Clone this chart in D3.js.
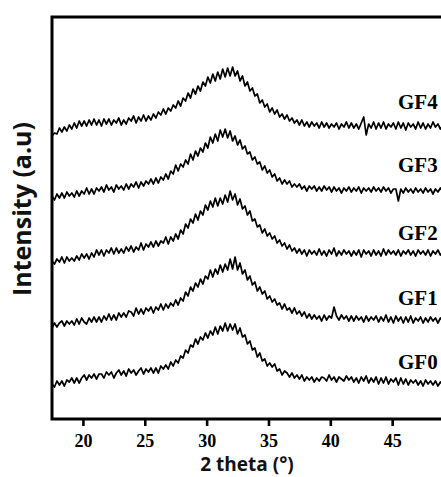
<!DOCTYPE html>
<html>
<head>
<meta charset="utf-8">
<script src="https://cdn.jsdelivr.net/npm/d3@7"></script>
<style>
  body { margin: 0; background: #fff; }
  svg { display: block; }
</style>
</head>
<body>
<svg id="chart"></svg>
<script>
// XRD patterns GF0..GF4 (scan 17.5° .. 49.1°, step 0.2°)
const thetaStart = 17.5, thetaStep = 0.2;

const names = ["GF0", "GF1", "GF2", "GF3", "GF4"];
const offsets = [30, 90, 155, 220, 283];   // vertical stacking of the patterns
const xTicks = [20, 25, 30, 35, 40, 45];

const gf0 = [4,1,7,3,7,2,8,6,10,5, 10,5,10,13,8,13,10,14,9,14, 14,10,16,13,16,10,15,18,13,17,
  12,19,15,18,13,17,20,14,19,16, 20,15,20,15,22,19,23,19,26,22, 28,25,32,30,38,35,43,41,49,44,
  51,48,55,50,57,53,61,54,62,57, 65,57,64,58,64,54,60,51,53,44, 47,38,40,31,35,27,29,22,25,21,
  24,17,19,13,17,15,11,15,10,13, 9,13,7,11,8,11,6,10,7,11, 10,7,13,8,11,6,11,9,7,12,
  8,11,6,10,5,11,7,12,5,10, 6,11,4,10,5,11,4,9,6,10, 3,10,4,9,3,8,5,8,3,7, 2,8,4,7,3,7,2,6,3];

const gf1 = [0,5,1,5,7,2,7,4,7,3, 9,4,10,6,4,10,6,11,6,11, 6,12,8,14,8,13,8,15,11,15,
  11,17,16,12,20,14,19,14,20,17, 21,15,21,18,24,18,24,20,25,22, 28,23,30,27,36,32,41,37,45,41,
  49,44,52,49,58,51,59,54,63,56, 64,58,69,59,71,58,65,54,58,48, 52,43,46,37,41,34,37,29,32,26,
  29,23,25,19,24,18,20,15,20,14, 17,12,16,10,14,9,13,9,12,7, 13,8,12,10,21,12,8,13,9,12,
  7,12,7,12,8,11,6,12,7,11, 8,12,6,11,7,13,6,11,5,12, 7,11,5,11,6,12,5,10,7,11, 5,10,6,11,7,10,5,10,7];

const gf2 = [2,-1,4,1,6,0,6,2,5,2, 7,3,9,5,9,4,10,6,13,8, 13,7,13,10,15,9,15,10,14,10,
  16,12,17,11,16,13,20,13,19,16, 21,16,22,17,22,20,26,19,26,22, 29,24,33,29,39,35,44,40,49,43,
  52,48,58,53,62,56,65,57,65,59, 68,61,72,63,69,58,64,54,57,48, 52,42,44,36,38,30,34,27,30,24,
  27,20,23,17,20,14,18,12,15,10, 14,9,13,7,13,9,12,8,14,8, 12,7,13,9,15,7,12,8,13,9,
  12,7,12,8,13,6,13,9,12,7, 13,8,12,7,14,8,13,9,12,8, 13,7,12,9,13,8,12,7,13,9, 12,8,13,7,12,9,13,8,11];

const gf3 = [2,-2,4,0,5,0,6,2,5,1, 7,2,7,4,10,4,9,4,10,7, 11,6,13,8,11,6,13,9,12,8,
  14,9,14,11,16,10,16,12,17,14, 19,14,20,15,21,18,24,19,27,24, 33,27,34,31,38,34,44,38,47,42,
  50,46,55,50,61,55,64,57,68,61, 69,60,67,57,62,53,58,49,52,44, 46,38,41,34,36,28,32,25,28,21,
  24,17,20,14,18,14,17,11,14,11, 14,9,12,7,12,9,12,7,11,7, 12,8,11,6,11,7,10,5,10,7,
  11,6,10,7,11,5,10,7,10,6, 11,7,10,6,11,7,10,5,9,9, -3,9,5,10,6,9,5,10,6,9, 5,10,6,9,4,9,6,10,6];

const gf4 = [-1,2,1,7,3,8,4,10,6,12, 7,14,9,14,9,15,10,16,10,15, 9,16,11,16,10,15,12,17,10,15,
  11,17,14,19,12,18,14,20,14,19, 15,21,17,23,20,26,21,27,24,30, 27,34,29,37,34,42,37,46,41,49,
  44,53,49,58,52,61,54,63,56,66, 58,67,59,68,59,64,54,59,49,53, 44,47,39,41,32,35,28,31,23,27,
  21,25,18,21,16,20,14,17,12,15, 10,15,9,13,8,13,9,12,7,13, 8,12,7,11,8,12,6,11,8,13,
  7,12,7,11,6,12,18,0,11,7, 13,6,12,7,13,6,11,8,12,6, 13,7,12,5,12,8,11,6,13,7, 12,6,11,7,13,8,11,6,10];

const seriesValues = [gf0, gf1, gf2, gf3, gf4];

// Layout
const width = 441, height = 477;
const plot = { left: 52, top: 17, bottom: 419 };
const labelLift = [19, 23, 23, 26, 26];

const svg = d3.select("#chart")
  .attr("width", width)
  .attr("height", height);

const x = d3.scaleLinear()
  .domain([17.5, 50])
  .range([plot.left, plot.left + 32.5 * 12.37]);

const y = d3.scaleLinear()
  .domain([-1, 401])
  .range([plot.bottom, plot.top]);

const line = d3.line()
  .x(d => x(d.t))
  .y(d => y(d.v));

// Kurven
seriesValues.forEach((vals, k) => {
  const pts = vals.map((v, i) => ({ t: thetaStart + i * thetaStep, v: v + offsets[k] }));
  svg.append("path")
    .datum(pts)
    .attr("fill", "none")
    .attr("stroke", "#000")
    .attr("stroke-width", 1.7)
    .attr("stroke-linejoin", "round")
    .attr("d", line);
});

// Rahmen
svg.append("rect")
  .attr("x", plot.left)
  .attr("y", plot.top)
  .attr("width", x(50) - plot.left)
  .attr("height", plot.bottom - plot.top)
  .attr("fill", "none")
  .attr("stroke", "#000")
  .attr("stroke-width", 3);

// x-Achse
const xAxis = svg.append("g")
  .attr("transform", `translate(0,${plot.bottom})`)
  .call(d3.axisBottom(x).tickValues(xTicks).tickSize(7).tickPadding(8));
xAxis.select(".domain").remove();
xAxis.selectAll(".tick line")
  .attr("stroke", "#000")
  .attr("stroke-width", 2.6);
xAxis.selectAll(".tick text")
  .attr("fill", "#000")
  .attr("font-family", "'Liberation Serif', 'Times New Roman', serif")
  .attr("font-weight", "bold")
  .attr("font-size", "18px");

// Achsentitel
svg.append("text")
  .attr("x", 247)
  .attr("y", 471)
  .attr("text-anchor", "middle")
  .attr("font-family", "'Open Sans', sans-serif")
  .attr("font-weight", "bold")
  .attr("font-size", "19px")
  .attr("fill", "#111")
  .text("2 theta (°)");

svg.append("text")
  .attr("transform", "translate(31,209) rotate(-90)")
  .attr("text-anchor", "middle")
  .attr("font-family", "'Open Sans', sans-serif")
  .attr("font-weight", "bold")
  .attr("font-size", "25px")
  .attr("fill", "#111")
  .text("Intensity (a.u)");

// Kurvenbeschriftung
names.forEach((n, k) => {
  svg.append("text")
    .attr("x", 398)
    .attr("y", y(offsets[k] + labelLift[k]))
    .attr("font-family", "'Liberation Serif', 'Times New Roman', serif")
    .attr("font-weight", "bold")
    .attr("font-size", "21px")
    .attr("fill", "#000")
    .text(n);
});
</script>
</body>
</html>
